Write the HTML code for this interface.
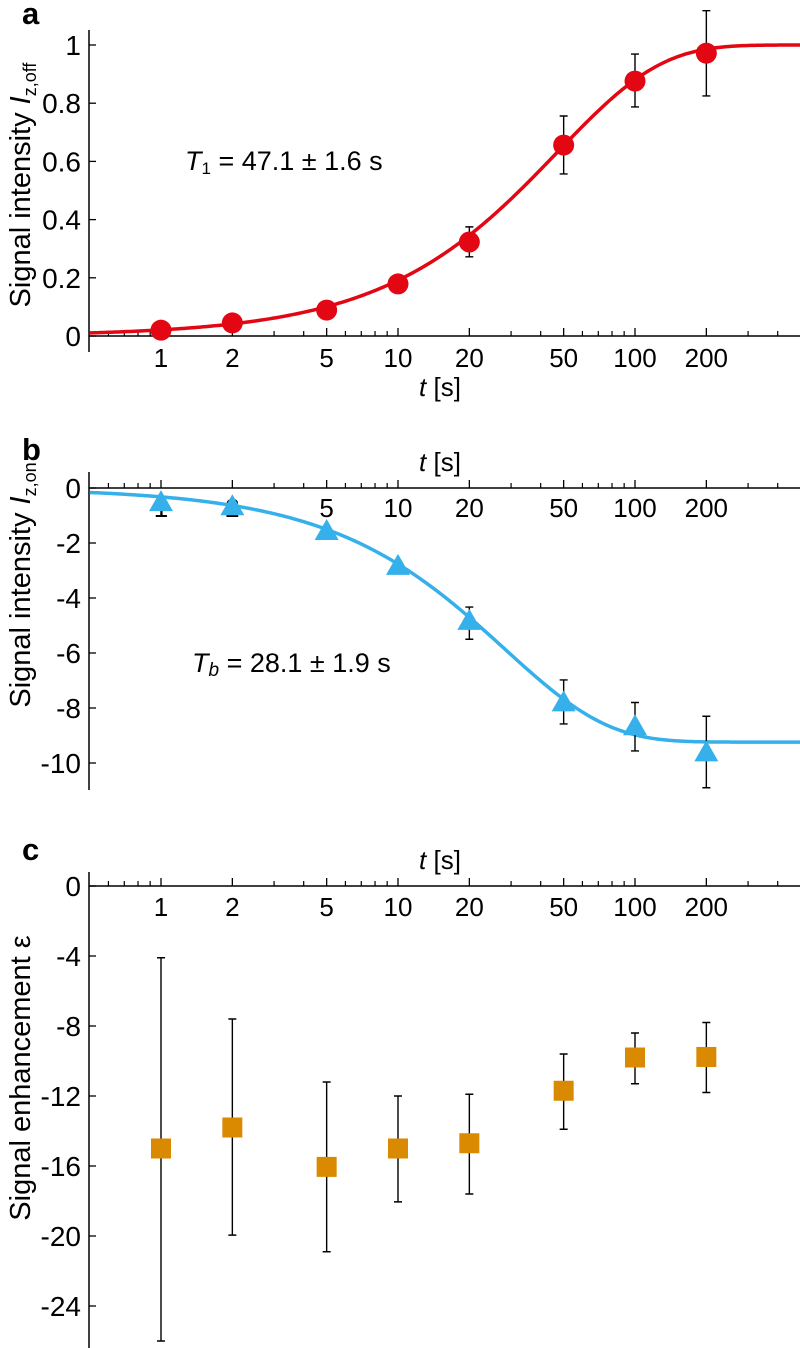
<!DOCTYPE html>
<html><head><meta charset="utf-8"><style>
body{margin:0;background:#fff;}
svg{display:block;font-family:"Liberation Sans",Arial,sans-serif;}
</style></head><body>
<svg id="fig" width="800" height="1348" viewBox="0 0 800 1348"></svg>
<script>
const tValues = [1, 2, 5, 10, 20, 50, 100, 200];
const offValues = [0.02, 0.045, 0.089, 0.179, 0.323, 0.656, 0.876, 0.972];
const offErrLow = [0.02, 0.045, 0.089, 0.179, 0.272, 0.557, 0.787, 0.825];
const offErrHigh = [0.02, 0.045, 0.089, 0.179, 0.375, 0.756, 0.969, 1.118];
const onValues = [-0.55, -0.7, -1.6, -2.87, -4.87, -7.83, -8.7, -9.65];
const onErrLow = [-0.55, -0.7, -1.6, -2.87, -5.5, -8.58, -9.56, -10.9];
const onErrHigh = [-0.55, -0.7, -1.6, -2.87, -4.33, -6.98, -7.8, -8.3];
const epsValues = [-15.0, -13.8, -16.05, -15.0, -14.7, -11.7, -9.8, -9.77];
const epsErrLow = [-26.0, -19.95, -20.9, -18.05, -17.6, -13.9, -11.3, -11.8];
const epsErrHigh = [-4.1, -7.6, -11.2, -12.0, -11.9, -9.6, -8.4, -7.8];
const xTickLabels = ["1", "2", "5", "10", "20", "50", "100", "200"];
const yTicksA = [0, 0.2, 0.4, 0.6, 0.8, 1];
const yTicksB = [0, -2, -4, -6, -8, -10];
const yTicksC = [0, -4, -8, -12, -16, -20, -24];
const fitA = {amp: 1.0, T: 47.1};
const fitB = {amp: -9.24, T: 28.1};

const NS = "http://www.w3.org/2000/svg";
const svg = document.getElementById('fig');
const FS = 26, FSY = 28, FST = 29;
function el(tag, attrs, parent, text){
  const e = document.createElementNS(NS, tag);
  for (const k in attrs) e.setAttribute(k, attrs[k]);
  if (text !== undefined) e.textContent = text;
  (parent || svg).appendChild(e);
  return e;
}
const X0 = 89, XR = 800;
function xs(t){ return 161 + 237 * Math.log10(t); }
const minorTicks = [0.6,0.7,0.8,0.9,3,4,6,7,8,9,30,40,60,70,80,90,300,400,500];

function panel(cfg){
  const g = el('g', {});
  
  
  const ys = v => cfg.y0 + v * cfg.scale;
  const ya = el('line', {x1:X0, y1:cfg.yTop, x2:X0, y2:cfg.yBot, stroke:'#000', 'stroke-width':1.5}, g);
  
  
  cfg.yTicks.forEach(v => {
    const y = ys(v);
    el('line', {x1:X0, y1:y, x2:X0+7, y2:y, stroke:'#000', 'stroke-width':1.3}, g);
    const tl = el('text', {x:X0-8, y:y+10, 'text-anchor':'end', 'font-size':FSY}, g, String(v));
    
    
  });
  const ax = cfg.y0;
  const xa = el('line', {x1:X0, y1:ax, x2:XR, y2:ax, stroke:'#000', 'stroke-width':1.5}, g);
  
  
  tValues.forEach((t, i) => {
    const x = xs(t);
    el('line', {x1:x, y1:ax, x2:x, y2:ax-8, stroke:'#000', 'stroke-width':1.3}, g);
    const tl = el('text', {x:x, y:cfg.labelY, 'text-anchor':'middle', 'font-size':FS}, g, xTickLabels[i]);
    
    
  });
  minorTicks.forEach(t => {
    const x = xs(t);
    if (x > X0 && x < XR) el('line', {x1:x, y1:ax, x2:x, y2:ax-5, stroke:'#000', 'stroke-width':1.2}, g);
  });
  const xt = el('text', {x:cfg.tTitleX, y:cfg.tTitleY, 'text-anchor':'middle', 'font-size':FS}, g);
  
  
  el('tspan', {'font-style':'italic'}, xt, 't');
  el('tspan', {}, xt, ' [s]');
  const pl = el('text', {x:22, y:cfg.letterY, 'font-size':31, 'font-weight':'bold'}, g, cfg.letter);
  
  
  const yt = el('text', {x:0, y:0, 'text-anchor':'middle', 'font-size':FST, transform:`translate(30,${cfg.yTitleY}) rotate(-90)`}, g);
  
  
  cfg.yTitle(yt);
  return {g, ys};
}

function fitPath(p, fit){
  let d = '';
  for (let i = 0; i <= 300; i++){
    const lt = Math.log10(0.5) + i/300 * (Math.log10(510) - Math.log10(0.5));
    const t = Math.pow(10, lt);
    const v = fit.amp * (1 - Math.exp(-t / fit.T));
    d += (i ? 'L' : 'M') + xs(t).toFixed(2) + ',' + p.ys(v).toFixed(2);
  }
  return d;
}
function errBar(p, x, lo, hi){
  const e = el('path', {d:`M${x},${p.ys(lo)}V${p.ys(hi)}M${x-4},${p.ys(lo)}h8M${x-4},${p.ys(hi)}h8`, stroke:'#000', 'stroke-width':1.4, fill:'none'}, p.g);
  
  
}

// Panel a
(function(){
  const p = panel({name:'panel-a', letter:'a', letterY:24, y0:336, scale:-291, yTop:30, yBot:352,
    yTicks:yTicksA, labelY:367, tTitleX:440, tTitleY:396, yTitleY:185,
    yTitle: t => { el('tspan',{},t,'Signal intensity '); el('tspan',{'font-style':'italic'},t,'I'); el('tspan',{'font-size':18,dy:6},t,'z,off'); }});
  const c = el('path', {d:fitPath(p, fitA), fill:'none', stroke:'#e30613', 'stroke-width':3.5}, p.g);
  
  
  tValues.forEach((t, i) => {
    const x = xs(t);
    if (offErrHigh[i] !== offErrLow[i]) errBar(p, x, offErrLow[i], offErrHigh[i]);
    const m = el('circle', {cx:x, cy:p.ys(offValues[i]), r:10.5, fill:'#e30613'}, p.g);
    
    
  });
  const an = el('text', {x:185, y:170, 'font-size':27}, p.g);
  
  
  el('tspan',{'font-style':'italic'},an,'T');
  el('tspan',{'font-size':17,dy:4},an,'1');
  el('tspan',{dy:-4},an,' = 47.1 ± 1.6 s');
})();

// Panel b
(function(){
  const p = panel({name:'panel-b', letter:'b', letterY:460, y0:488, scale:-27.5, yTop:472, yBot:790,
    yTicks:yTicksB, labelY:517, tTitleX:440, tTitleY:471, yTitleY:585,
    yTitle: t => { el('tspan',{},t,'Signal intensity '); el('tspan',{'font-style':'italic'},t,'I'); el('tspan',{'font-size':18,dy:6},t,'z,on'); }});
  const c = el('path', {d:fitPath(p, fitB), fill:'none', stroke:'#36b0ea', 'stroke-width':3.5}, p.g);
  
  
  tValues.forEach((t, i) => {
    const x = xs(t);
    if (onErrHigh[i] !== onErrLow[i]) errBar(p, x, onErrLow[i], onErrHigh[i]);
    const cy = p.ys(onValues[i]);
    const m = el('polygon', {points:`${x},${cy-13} ${x-12},${cy+8} ${x+12},${cy+8}`, fill:'#36b0ea'}, p.g);
    
    
  });
  const an = el('text', {x:192, y:672, 'font-size':27}, p.g);
  
  
  el('tspan',{'font-style':'italic'},an,'T');
  el('tspan',{'font-style':'italic','font-size':19,dy:4},an,'b');
  el('tspan',{dy:-4},an,' = 28.1 ± 1.9 s');
})();

// Panel c
(function(){
  const p = panel({name:'panel-c', letter:'c', letterY:860, y0:886, scale:-17.5, yTop:872, yBot:1348,
    yTicks:yTicksC, labelY:916, tTitleX:440, tTitleY:869, yTitleY:1078,
    yTitle: t => { el('tspan',{},t,'Signal enhancement ε'); }});
  tValues.forEach((t, i) => {
    const x = xs(t);
    errBar(p, x, epsErrLow[i], epsErrHigh[i]);
    const cy = p.ys(epsValues[i]);
    const m = el('rect', {x:x-10, y:cy-10, width:20, height:20, fill:'#d98a00'}, p.g);
    
    
  });
})();
</script>
</body></html>
